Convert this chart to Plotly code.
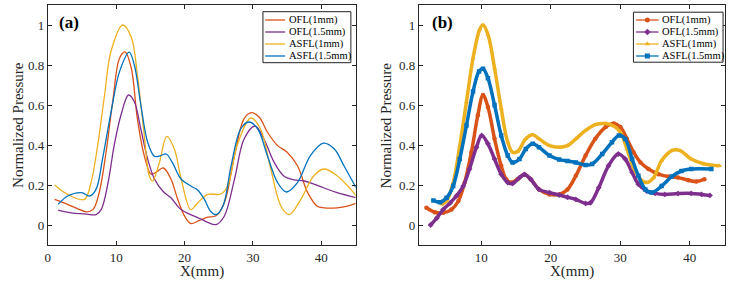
import plotly.graph_objects as go

# ---------------- data ----------------
series_names = ["OFL(1mm)", "OFL(1.5mm)", "ASFL(1mm)", "ASFL(1.5mm)"]
colors = ["#D95319", "#7E2F8E", "#EDB120", "#0072BD"]
markers_b = ["circle", "diamond", "triangle-up", "square"]

# panel (a)
a_ofl1_x = [1, 2.9, 4.4, 5.6, 6.6, 7.5, 8.5, 9.5, 10.5, 11.3, 12.2, 13.1, 14.1, 15.1, 15.8, 16.9, 18, 19, 20, 20.9,
            22.1, 23.4, 24.6, 25.8, 27.3, 28.7, 29.8, 30.9, 32.1, 33.6, 35.0, 36.5, 38, 39.4, 40.4, 42.3, 43.8, 45.2]
a_ofl1_y = [0.128, 0.103, 0.081, 0.066, 0.077, 0.16, 0.36, 0.62, 0.835, 0.865, 0.785, 0.53, 0.347, 0.254, 0.263, 0.285,
            0.23, 0.128, 0.044, 0.007, 0.022, 0.039, 0.046, 0.11, 0.347, 0.532, 0.562, 0.54, 0.465, 0.397, 0.364, 0.296,
            0.162, 0.094, 0.086, 0.086, 0.094, 0.111]

a_ofl15_x = [1.5, 3.4, 5.35, 7.05, 7.8, 8.8, 9.7, 10.7, 11.8, 12.65, 13.6, 14.6, 15.6, 16.8, 18, 19.5, 21.4, 22.6,
             23.4, 24.6, 25.8, 27.3, 28.7, 30.3, 31.6, 33.1, 34.6, 36, 37.5, 38.9, 40.4, 42.3, 45.2]
a_ofl15_y = [0.074, 0.061, 0.056, 0.052, 0.077, 0.21, 0.397, 0.55, 0.65, 0.616, 0.48, 0.33, 0.23, 0.17, 0.136, 0.077,
             0.044, 0.027, 0.013, 0.002, 0.044, 0.229, 0.43, 0.495, 0.43, 0.313, 0.242, 0.226, 0.22, 0.204, 0.185,
             0.162, 0.136]

a_asfl1_x = [1, 2.9, 5.35, 6.3, 7.3, 8.3, 9.25, 10.95, 12.2, 13.1, 14.1, 14.8, 15.3, 16.3, 17.4, 18.5, 19.5, 20.9,
             21.9, 23.4, 25.3, 26.3, 27.7, 29.7, 31.1, 32.6, 34.1, 35.3, 37, 38.9, 40.4, 42.3, 44.3, 45.2]
a_asfl1_y = [0.2, 0.153, 0.128, 0.21, 0.40, 0.65, 0.87, 1.0, 0.94, 0.75, 0.45, 0.25, 0.22, 0.31, 0.443, 0.38, 0.23,
             0.077, 0.11, 0.153, 0.155, 0.195, 0.4, 0.535, 0.48, 0.28, 0.094, 0.052, 0.128, 0.246, 0.28, 0.246,
             0.178, 0.141]

a_asfl15_x = [1.5, 2.9, 4.9, 6.1, 7.05, 8.0, 9.25, 10.5, 11.9, 12.65, 13.6, 14.6, 15.6, 16.5, 17.3, 18.2, 19.5, 20.9,
              21.9, 22.9, 23.8, 24.6, 25.6, 26.8, 28.2, 29.4, 30.7, 32.1, 33.6, 34.9, 36.5, 38.4, 40.3, 41.9, 43.3,
              45.2]
a_asfl15_y = [0.103, 0.145, 0.162, 0.145, 0.178, 0.33, 0.566, 0.768, 0.864, 0.80, 0.6, 0.414, 0.343, 0.347, 0.355,
              0.313, 0.229, 0.195, 0.175, 0.128, 0.069, 0.052, 0.094, 0.296, 0.48, 0.515, 0.48, 0.347, 0.212, 0.165,
              0.212, 0.347, 0.409, 0.38, 0.296, 0.178]

# panel (b)
b_ofl1_x = [2.1, 3.3, 4.5, 5.7, 6.7, 7.6, 8.57, 9.5, 10.24, 10.95, 11.9, 12.86, 13.57, 14.3, 15.2, 16.2, 17.1, 18.3,
            19.8, 21.2, 22.4, 23.6, 25, 26.4, 27.9, 29.05, 30, 30.95, 31.9, 32.9, 34.05, 35.5, 36.9, 38.3, 39.8,
            40.95, 42.1]
b_ofl1_y = [0.086, 0.064, 0.061, 0.077, 0.12, 0.212, 0.364, 0.549, 0.65, 0.59, 0.431, 0.296, 0.229, 0.212, 0.229,
            0.253, 0.229, 0.178, 0.153, 0.153, 0.178, 0.246, 0.347, 0.431, 0.49, 0.507, 0.49, 0.431, 0.364, 0.313,
            0.28, 0.254, 0.242, 0.237, 0.224, 0.217, 0.229]

b_ofl15_x = [2.7, 3.6, 4.5, 5.5, 6.4, 7.4, 8.3, 9.3, 10.05, 10.95, 11.9, 12.86, 13.8, 14.5, 15.5, 16.2, 17.1, 18.3,
             19.8, 21.2, 22.4, 23.6, 25, 25.7, 26.9, 28.3, 29.7, 30.7, 31.7, 32.6, 33.8, 35, 36.4, 38.3, 40.2, 41.7,
             42.9]
b_ofl15_y = [0.0, 0.035, 0.077, 0.11, 0.145, 0.195, 0.28, 0.389, 0.448, 0.406, 0.33, 0.254, 0.212, 0.207, 0.237,
             0.253, 0.229, 0.178, 0.162, 0.15, 0.139, 0.128, 0.108, 0.111, 0.187, 0.296, 0.355, 0.33, 0.263, 0.204,
             0.17, 0.158, 0.153, 0.157, 0.158, 0.153, 0.148]

b_asfl1_x = [4.3, 5.0, 5.95, 6.9, 7.86, 8.81, 9.76, 10.24, 10.95, 11.9, 12.86, 13.8, 14.5, 15.2, 16.4, 17.4, 18.3,
             19.8, 21.2, 22.4, 23.6, 25, 26.4, 27.9, 29.05, 30, 30.95, 31.9, 32.9, 33.8, 34.8, 35.95, 37.4, 38.6,
             40.2, 42.1, 44.3]
b_asfl1_y = [0.103, 0.12, 0.212, 0.397, 0.616, 0.835, 0.978, 1.0, 0.953, 0.785, 0.582, 0.414, 0.364, 0.367, 0.431,
             0.451, 0.431, 0.397, 0.389, 0.397, 0.431, 0.473, 0.502, 0.507, 0.495, 0.465, 0.38, 0.288, 0.229, 0.212,
             0.237, 0.322, 0.372, 0.372, 0.33, 0.305, 0.296]

b_asfl15_x = [3.1, 4.05, 5.0, 5.95, 6.9, 7.86, 8.81, 9.67, 10.24, 10.95, 11.9, 12.86, 13.8, 14.5, 15.5, 16.4, 17.4,
              18.3, 19.8, 21.2, 22.4, 23.6, 25, 25.95, 27.4, 28.8, 29.8, 30.7, 31.7, 32.6, 33.6, 34.5, 35.95, 37.4,
              38.8, 40.2, 43.1]
b_asfl15_y = [0.123, 0.114, 0.136, 0.195, 0.33, 0.498, 0.667, 0.768, 0.781, 0.734, 0.6, 0.448, 0.347, 0.313, 0.33,
              0.38, 0.406, 0.389, 0.347, 0.327, 0.32, 0.313, 0.30, 0.305, 0.355, 0.414, 0.448, 0.43, 0.33, 0.246,
              0.178, 0.162, 0.195, 0.242, 0.27, 0.28, 0.28]

a_x = [a_ofl1_x, a_ofl15_x, a_asfl1_x, a_asfl15_x]
a_y = [a_ofl1_y, a_ofl15_y, a_asfl1_y, a_asfl15_y]
b_x = [b_ofl1_x, b_ofl15_x, b_asfl1_x, b_asfl15_x]
b_y = [b_ofl1_y, b_ofl15_y, b_asfl1_y, b_asfl15_y]

y_tickvals = [0, 0.2, 0.4, 0.6, 0.8, 1]
y_ticktext = ["0", "0.2", "0.4", "0.6", "0.8", "1"]
a_xticks = [0, 10, 20, 30, 40]
b_xticks = [10, 20, 30, 40]
panel_labels = ["(a)", "(b)"]
x_title = "X(mm)"
y_title = "Normalized Pressure"

# ---------------- figure ----------------
W, H = 735, 289
FONT = "Liberation Serif"
AX = "#262626"

fig = go.Figure()

for i in range(4):
    fig.add_trace(go.Scatter(x=a_x[i], y=a_y[i], mode="lines", xaxis="x", yaxis="y",
                             line=dict(color=colors[i], width=1.3, shape="spline", smoothing=1.0),
                             showlegend=False, hoverinfo="skip"))
for i in range(4):
    fig.add_trace(go.Scatter(x=b_x[i], y=b_y[i], mode="lines+markers", xaxis="x2", yaxis="y2",
                             line=dict(color=colors[i], width=3.5, shape="spline", smoothing=1.0),
                             marker=dict(symbol=markers_b[i], size=4.5, color=colors[i]),
                             showlegend=False, hoverinfo="skip"))

def px(v):
    return v / W

def py(v):
    return 1 - v / H

dom_a = [px(45), px(354)]
dom_b = [px(417.5), px(724.5)]
dom_y = [py(245), py(5)]

axis_common = dict(showline=True, linecolor=AX, linewidth=1, mirror="ticks", ticks="inside", ticklen=4,
                   tickcolor=AX, tickwidth=1, showgrid=False, zeroline=False,
                   tickfont=dict(family=FONT, size=13, color=AX))

fig.update_layout(
    width=W, height=H, margin=dict(l=0, r=0, t=0, b=0),
    paper_bgcolor="white", plot_bgcolor="rgba(0,0,0,0)", showlegend=False,
    xaxis=dict(domain=dom_a, range=[0, 45], tickvals=a_xticks, anchor="y", **axis_common),
    yaxis=dict(domain=dom_y, range=[-0.1, 1.1], tickvals=y_tickvals, ticktext=y_ticktext, anchor="x",
               **axis_common),
    xaxis2=dict(domain=dom_b, range=[1, 45], tickvals=b_xticks, anchor="y2", **axis_common),
    yaxis2=dict(domain=dom_y, range=[-0.1, 1.1], tickvals=y_tickvals, ticktext=y_ticktext, anchor="x2",
                **axis_common),
    xaxis3=dict(domain=[0, 1], range=[0, W], visible=False, anchor="y3"),
    yaxis3=dict(domain=[0, 1], range=[H, 0], visible=False, anchor="x3"),
)

ann = []
# axis titles
for cx in [(45 + 354) / 2, (417.5 + 724.5) / 2]:
    ann.append(dict(text=x_title, xref="paper", yref="paper", x=px(cx), y=py(271.5), showarrow=False,
                    font=dict(family=FONT, size=15, color=AX), xanchor="center", yanchor="middle"))
for cx in [15, 385]:
    ann.append(dict(text=y_title, xref="paper", yref="paper", x=px(cx), y=py(125), showarrow=False,
                    textangle=-90, font=dict(family=FONT, size=15, color=AX), xanchor="center",
                    yanchor="middle"))
# panel labels
for lab, lx in zip(panel_labels, [54, 429]):
    ann.append(dict(text="<b>" + lab + "</b>", xref="paper", yref="paper", x=px(lx), y=py(22), showarrow=False,
                    font=dict(family=FONT, size=17, color="black"), xanchor="left", yanchor="middle"))

# manual legends
shapes = []
leg_rows = [20, 32, 44, 56]
legends = [dict(box=(261, 11.7, 349.3, 62.7), l0=263.3, l1=283.3, tx=285, mk=False),
           dict(box=(633, 12.2, 723, 62.2), l0=635.7, l1=658.3, tx=659.7, mk=True)]
for lg in legends:
    x0, y0, x1, y1 = lg["box"]
    shapes.append(dict(type="rect", xref="x3", yref="y3", x0=x0, y0=y0, x1=x1, y1=y1,
                       line=dict(color="#222222", width=1), fillcolor="white", layer="below"))
    for i, ry in enumerate(leg_rows):
        shapes.append(dict(type="line", xref="x3", yref="y3", x0=lg["l0"], x1=lg["l1"], y0=ry, y1=ry,
                           line=dict(color=colors[i], width=1.3), layer="above"))
        ann.append(dict(text=series_names[i], xref="x3", yref="y3", x=lg["tx"], y=ry, showarrow=False,
                        font=dict(family=FONT, size=10.5, color="black"), xanchor="left", yanchor="middle"))
    if lg["mk"]:
        for i, ry in enumerate(leg_rows):
            fig.add_trace(go.Scatter(x=[(lg["l0"] + lg["l1"]) / 2], y=[ry], mode="markers", xaxis="x3",
                                     yaxis="y3", marker=dict(symbol=markers_b[i], size=5, color=colors[i]),
                                     showlegend=False, hoverinfo="skip"))

fig.update_layout(annotations=ann, shapes=shapes)
fig.write_html("out.html")
